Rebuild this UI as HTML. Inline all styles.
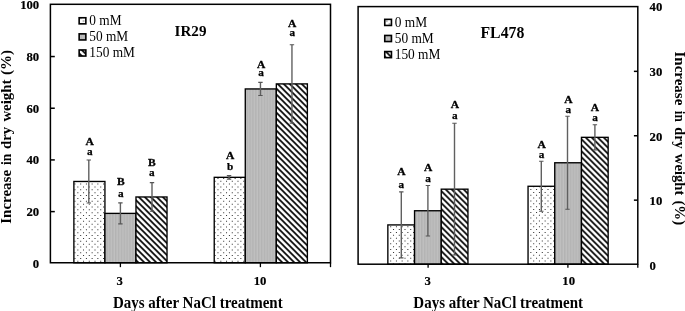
<!DOCTYPE html>
<html><head><meta charset="utf-8"><title>chart</title>
<style>
html,body{margin:0;padding:0;background:#fff;}
svg{display:block;will-change:transform;transform:translateZ(0);}
text{font-family:"Liberation Serif",serif;fill:#000;}
.b{font-weight:bold;}
</style></head><body>
<svg width="685" height="311" viewBox="0 0 685 311">
<defs>
<pattern id="dots" width="5.72" height="5.72" patternUnits="userSpaceOnUse" x="5.41" y="0.15">
<rect width="5.72" height="5.72" fill="#fff"/>
<rect x="0.35" y="0.35" width="1.15" height="1.15" fill="#3c3c3c"/>
<rect x="3.21" y="3.21" width="1.15" height="1.15" fill="#3c3c3c"/>
</pattern>
<pattern id="gray" width="2.86" height="2.86" patternUnits="userSpaceOnUse" x="0.6" y="0">
<rect width="2.86" height="2.86" fill="#c0c0c0"/>
<rect width="1.43" height="2.86" fill="#b3b3b3"/>
</pattern>
<pattern id="diag" width="6" height="6" patternUnits="userSpaceOnUse" x="1.8" y="0">
<rect width="6" height="6" fill="#fff"/>
<path d="M-3,-3 L9,9 M-3,3 L3,9 M3,-3 L9,3" stroke="#000" stroke-width="1.65" fill="none"/>
</pattern>
<pattern id="diagR" width="6" height="6" patternUnits="userSpaceOnUse" x="4.3" y="0">
<rect width="6" height="6" fill="#fff"/>
<path d="M-3,-3 L9,9 M-3,3 L3,9 M3,-3 L9,3" stroke="#000" stroke-width="1.65" fill="none"/>
</pattern>
</defs>
<rect width="685" height="311" fill="#fff"/>

<rect x="73.88" y="181.47" width="31.05" height="81.28" fill="#fff"/>
<path d="M74.47,183.61h1.0v1.0h-1.0zM74.47,189.33h1.0v1.0h-1.0zM74.47,195.05h1.0v1.0h-1.0zM74.47,200.77h1.0v1.0h-1.0zM74.47,206.49h1.0v1.0h-1.0zM74.47,212.21h1.0v1.0h-1.0zM74.47,217.93h1.0v1.0h-1.0zM74.47,223.65h1.0v1.0h-1.0zM74.47,229.37h1.0v1.0h-1.0zM74.47,235.09h1.0v1.0h-1.0zM74.47,240.81h1.0v1.0h-1.0zM74.47,246.53h1.0v1.0h-1.0zM74.47,252.25h1.0v1.0h-1.0zM74.47,257.97h1.0v1.0h-1.0zM80.19,183.61h1.0v1.0h-1.0zM80.19,189.33h1.0v1.0h-1.0zM80.19,195.05h1.0v1.0h-1.0zM80.19,200.77h1.0v1.0h-1.0zM80.19,206.49h1.0v1.0h-1.0zM80.19,212.21h1.0v1.0h-1.0zM80.19,217.93h1.0v1.0h-1.0zM80.19,223.65h1.0v1.0h-1.0zM80.19,229.37h1.0v1.0h-1.0zM80.19,235.09h1.0v1.0h-1.0zM80.19,240.81h1.0v1.0h-1.0zM80.19,246.53h1.0v1.0h-1.0zM80.19,252.25h1.0v1.0h-1.0zM80.19,257.97h1.0v1.0h-1.0zM85.91,183.61h1.0v1.0h-1.0zM85.91,189.33h1.0v1.0h-1.0zM85.91,195.05h1.0v1.0h-1.0zM85.91,200.77h1.0v1.0h-1.0zM85.91,206.49h1.0v1.0h-1.0zM85.91,212.21h1.0v1.0h-1.0zM85.91,217.93h1.0v1.0h-1.0zM85.91,223.65h1.0v1.0h-1.0zM85.91,229.37h1.0v1.0h-1.0zM85.91,235.09h1.0v1.0h-1.0zM85.91,240.81h1.0v1.0h-1.0zM85.91,246.53h1.0v1.0h-1.0zM85.91,252.25h1.0v1.0h-1.0zM85.91,257.97h1.0v1.0h-1.0zM91.63,183.61h1.0v1.0h-1.0zM91.63,189.33h1.0v1.0h-1.0zM91.63,195.05h1.0v1.0h-1.0zM91.63,200.77h1.0v1.0h-1.0zM91.63,206.49h1.0v1.0h-1.0zM91.63,212.21h1.0v1.0h-1.0zM91.63,217.93h1.0v1.0h-1.0zM91.63,223.65h1.0v1.0h-1.0zM91.63,229.37h1.0v1.0h-1.0zM91.63,235.09h1.0v1.0h-1.0zM91.63,240.81h1.0v1.0h-1.0zM91.63,246.53h1.0v1.0h-1.0zM91.63,252.25h1.0v1.0h-1.0zM91.63,257.97h1.0v1.0h-1.0zM97.35,183.61h1.0v1.0h-1.0zM97.35,189.33h1.0v1.0h-1.0zM97.35,195.05h1.0v1.0h-1.0zM97.35,200.77h1.0v1.0h-1.0zM97.35,206.49h1.0v1.0h-1.0zM97.35,212.21h1.0v1.0h-1.0zM97.35,217.93h1.0v1.0h-1.0zM97.35,223.65h1.0v1.0h-1.0zM97.35,229.37h1.0v1.0h-1.0zM97.35,235.09h1.0v1.0h-1.0zM97.35,240.81h1.0v1.0h-1.0zM97.35,246.53h1.0v1.0h-1.0zM97.35,252.25h1.0v1.0h-1.0zM97.35,257.97h1.0v1.0h-1.0zM103.07,183.61h1.0v1.0h-1.0zM103.07,189.33h1.0v1.0h-1.0zM103.07,195.05h1.0v1.0h-1.0zM103.07,200.77h1.0v1.0h-1.0zM103.07,206.49h1.0v1.0h-1.0zM103.07,212.21h1.0v1.0h-1.0zM103.07,217.93h1.0v1.0h-1.0zM103.07,223.65h1.0v1.0h-1.0zM103.07,229.37h1.0v1.0h-1.0zM103.07,235.09h1.0v1.0h-1.0zM103.07,240.81h1.0v1.0h-1.0zM103.07,246.53h1.0v1.0h-1.0zM103.07,252.25h1.0v1.0h-1.0zM103.07,257.97h1.0v1.0h-1.0zM77.34,186.47h1.0v1.0h-1.0zM77.34,192.19h1.0v1.0h-1.0zM77.34,197.91h1.0v1.0h-1.0zM77.34,203.63h1.0v1.0h-1.0zM77.34,209.35h1.0v1.0h-1.0zM77.34,215.07h1.0v1.0h-1.0zM77.34,220.79h1.0v1.0h-1.0zM77.34,226.51h1.0v1.0h-1.0zM77.34,232.23h1.0v1.0h-1.0zM77.34,237.95h1.0v1.0h-1.0zM77.34,243.67h1.0v1.0h-1.0zM77.34,249.39h1.0v1.0h-1.0zM77.34,255.11h1.0v1.0h-1.0zM77.34,260.83h1.0v1.0h-1.0zM83.06,186.47h1.0v1.0h-1.0zM83.06,192.19h1.0v1.0h-1.0zM83.06,197.91h1.0v1.0h-1.0zM83.06,203.63h1.0v1.0h-1.0zM83.06,209.35h1.0v1.0h-1.0zM83.06,215.07h1.0v1.0h-1.0zM83.06,220.79h1.0v1.0h-1.0zM83.06,226.51h1.0v1.0h-1.0zM83.06,232.23h1.0v1.0h-1.0zM83.06,237.95h1.0v1.0h-1.0zM83.06,243.67h1.0v1.0h-1.0zM83.06,249.39h1.0v1.0h-1.0zM83.06,255.11h1.0v1.0h-1.0zM83.06,260.83h1.0v1.0h-1.0zM88.78,186.47h1.0v1.0h-1.0zM88.78,192.19h1.0v1.0h-1.0zM88.78,197.91h1.0v1.0h-1.0zM88.78,203.63h1.0v1.0h-1.0zM88.78,209.35h1.0v1.0h-1.0zM88.78,215.07h1.0v1.0h-1.0zM88.78,220.79h1.0v1.0h-1.0zM88.78,226.51h1.0v1.0h-1.0zM88.78,232.23h1.0v1.0h-1.0zM88.78,237.95h1.0v1.0h-1.0zM88.78,243.67h1.0v1.0h-1.0zM88.78,249.39h1.0v1.0h-1.0zM88.78,255.11h1.0v1.0h-1.0zM88.78,260.83h1.0v1.0h-1.0zM94.50,186.47h1.0v1.0h-1.0zM94.50,192.19h1.0v1.0h-1.0zM94.50,197.91h1.0v1.0h-1.0zM94.50,203.63h1.0v1.0h-1.0zM94.50,209.35h1.0v1.0h-1.0zM94.50,215.07h1.0v1.0h-1.0zM94.50,220.79h1.0v1.0h-1.0zM94.50,226.51h1.0v1.0h-1.0zM94.50,232.23h1.0v1.0h-1.0zM94.50,237.95h1.0v1.0h-1.0zM94.50,243.67h1.0v1.0h-1.0zM94.50,249.39h1.0v1.0h-1.0zM94.50,255.11h1.0v1.0h-1.0zM94.50,260.83h1.0v1.0h-1.0zM100.22,186.47h1.0v1.0h-1.0zM100.22,192.19h1.0v1.0h-1.0zM100.22,197.91h1.0v1.0h-1.0zM100.22,203.63h1.0v1.0h-1.0zM100.22,209.35h1.0v1.0h-1.0zM100.22,215.07h1.0v1.0h-1.0zM100.22,220.79h1.0v1.0h-1.0zM100.22,226.51h1.0v1.0h-1.0zM100.22,232.23h1.0v1.0h-1.0zM100.22,237.95h1.0v1.0h-1.0zM100.22,243.67h1.0v1.0h-1.0zM100.22,249.39h1.0v1.0h-1.0zM100.22,255.11h1.0v1.0h-1.0zM100.22,260.83h1.0v1.0h-1.0z" fill="#2e2e2e"/>
<rect x="73.88" y="181.47" width="31.05" height="81.28" fill="none" stroke="#000" stroke-width="1.35"/>
<rect x="104.92" y="213.39" width="31.05" height="49.36" fill="url(#gray)" stroke="#000" stroke-width="1.35"/>
<rect x="135.97" y="196.97" width="31.05" height="65.78" fill="url(#diag)" stroke="#000" stroke-width="1.35"/>
<rect x="214.23" y="177.33" width="31.05" height="85.42" fill="#fff"/>
<path d="M217.47,177.89h1.0v1.0h-1.0zM217.47,183.61h1.0v1.0h-1.0zM217.47,189.33h1.0v1.0h-1.0zM217.47,195.05h1.0v1.0h-1.0zM217.47,200.77h1.0v1.0h-1.0zM217.47,206.49h1.0v1.0h-1.0zM217.47,212.21h1.0v1.0h-1.0zM217.47,217.93h1.0v1.0h-1.0zM217.47,223.65h1.0v1.0h-1.0zM217.47,229.37h1.0v1.0h-1.0zM217.47,235.09h1.0v1.0h-1.0zM217.47,240.81h1.0v1.0h-1.0zM217.47,246.53h1.0v1.0h-1.0zM217.47,252.25h1.0v1.0h-1.0zM217.47,257.97h1.0v1.0h-1.0zM223.19,177.89h1.0v1.0h-1.0zM223.19,183.61h1.0v1.0h-1.0zM223.19,189.33h1.0v1.0h-1.0zM223.19,195.05h1.0v1.0h-1.0zM223.19,200.77h1.0v1.0h-1.0zM223.19,206.49h1.0v1.0h-1.0zM223.19,212.21h1.0v1.0h-1.0zM223.19,217.93h1.0v1.0h-1.0zM223.19,223.65h1.0v1.0h-1.0zM223.19,229.37h1.0v1.0h-1.0zM223.19,235.09h1.0v1.0h-1.0zM223.19,240.81h1.0v1.0h-1.0zM223.19,246.53h1.0v1.0h-1.0zM223.19,252.25h1.0v1.0h-1.0zM223.19,257.97h1.0v1.0h-1.0zM228.91,177.89h1.0v1.0h-1.0zM228.91,183.61h1.0v1.0h-1.0zM228.91,189.33h1.0v1.0h-1.0zM228.91,195.05h1.0v1.0h-1.0zM228.91,200.77h1.0v1.0h-1.0zM228.91,206.49h1.0v1.0h-1.0zM228.91,212.21h1.0v1.0h-1.0zM228.91,217.93h1.0v1.0h-1.0zM228.91,223.65h1.0v1.0h-1.0zM228.91,229.37h1.0v1.0h-1.0zM228.91,235.09h1.0v1.0h-1.0zM228.91,240.81h1.0v1.0h-1.0zM228.91,246.53h1.0v1.0h-1.0zM228.91,252.25h1.0v1.0h-1.0zM228.91,257.97h1.0v1.0h-1.0zM234.63,177.89h1.0v1.0h-1.0zM234.63,183.61h1.0v1.0h-1.0zM234.63,189.33h1.0v1.0h-1.0zM234.63,195.05h1.0v1.0h-1.0zM234.63,200.77h1.0v1.0h-1.0zM234.63,206.49h1.0v1.0h-1.0zM234.63,212.21h1.0v1.0h-1.0zM234.63,217.93h1.0v1.0h-1.0zM234.63,223.65h1.0v1.0h-1.0zM234.63,229.37h1.0v1.0h-1.0zM234.63,235.09h1.0v1.0h-1.0zM234.63,240.81h1.0v1.0h-1.0zM234.63,246.53h1.0v1.0h-1.0zM234.63,252.25h1.0v1.0h-1.0zM234.63,257.97h1.0v1.0h-1.0zM240.35,177.89h1.0v1.0h-1.0zM240.35,183.61h1.0v1.0h-1.0zM240.35,189.33h1.0v1.0h-1.0zM240.35,195.05h1.0v1.0h-1.0zM240.35,200.77h1.0v1.0h-1.0zM240.35,206.49h1.0v1.0h-1.0zM240.35,212.21h1.0v1.0h-1.0zM240.35,217.93h1.0v1.0h-1.0zM240.35,223.65h1.0v1.0h-1.0zM240.35,229.37h1.0v1.0h-1.0zM240.35,235.09h1.0v1.0h-1.0zM240.35,240.81h1.0v1.0h-1.0zM240.35,246.53h1.0v1.0h-1.0zM240.35,252.25h1.0v1.0h-1.0zM240.35,257.97h1.0v1.0h-1.0zM214.61,180.75h1.0v1.0h-1.0zM214.61,186.47h1.0v1.0h-1.0zM214.61,192.19h1.0v1.0h-1.0zM214.61,197.91h1.0v1.0h-1.0zM214.61,203.63h1.0v1.0h-1.0zM214.61,209.35h1.0v1.0h-1.0zM214.61,215.07h1.0v1.0h-1.0zM214.61,220.79h1.0v1.0h-1.0zM214.61,226.51h1.0v1.0h-1.0zM214.61,232.23h1.0v1.0h-1.0zM214.61,237.95h1.0v1.0h-1.0zM214.61,243.67h1.0v1.0h-1.0zM214.61,249.39h1.0v1.0h-1.0zM214.61,255.11h1.0v1.0h-1.0zM214.61,260.83h1.0v1.0h-1.0zM220.33,180.75h1.0v1.0h-1.0zM220.33,186.47h1.0v1.0h-1.0zM220.33,192.19h1.0v1.0h-1.0zM220.33,197.91h1.0v1.0h-1.0zM220.33,203.63h1.0v1.0h-1.0zM220.33,209.35h1.0v1.0h-1.0zM220.33,215.07h1.0v1.0h-1.0zM220.33,220.79h1.0v1.0h-1.0zM220.33,226.51h1.0v1.0h-1.0zM220.33,232.23h1.0v1.0h-1.0zM220.33,237.95h1.0v1.0h-1.0zM220.33,243.67h1.0v1.0h-1.0zM220.33,249.39h1.0v1.0h-1.0zM220.33,255.11h1.0v1.0h-1.0zM220.33,260.83h1.0v1.0h-1.0zM226.05,180.75h1.0v1.0h-1.0zM226.05,186.47h1.0v1.0h-1.0zM226.05,192.19h1.0v1.0h-1.0zM226.05,197.91h1.0v1.0h-1.0zM226.05,203.63h1.0v1.0h-1.0zM226.05,209.35h1.0v1.0h-1.0zM226.05,215.07h1.0v1.0h-1.0zM226.05,220.79h1.0v1.0h-1.0zM226.05,226.51h1.0v1.0h-1.0zM226.05,232.23h1.0v1.0h-1.0zM226.05,237.95h1.0v1.0h-1.0zM226.05,243.67h1.0v1.0h-1.0zM226.05,249.39h1.0v1.0h-1.0zM226.05,255.11h1.0v1.0h-1.0zM226.05,260.83h1.0v1.0h-1.0zM231.77,180.75h1.0v1.0h-1.0zM231.77,186.47h1.0v1.0h-1.0zM231.77,192.19h1.0v1.0h-1.0zM231.77,197.91h1.0v1.0h-1.0zM231.77,203.63h1.0v1.0h-1.0zM231.77,209.35h1.0v1.0h-1.0zM231.77,215.07h1.0v1.0h-1.0zM231.77,220.79h1.0v1.0h-1.0zM231.77,226.51h1.0v1.0h-1.0zM231.77,232.23h1.0v1.0h-1.0zM231.77,237.95h1.0v1.0h-1.0zM231.77,243.67h1.0v1.0h-1.0zM231.77,249.39h1.0v1.0h-1.0zM231.77,255.11h1.0v1.0h-1.0zM231.77,260.83h1.0v1.0h-1.0zM237.49,180.75h1.0v1.0h-1.0zM237.49,186.47h1.0v1.0h-1.0zM237.49,192.19h1.0v1.0h-1.0zM237.49,197.91h1.0v1.0h-1.0zM237.49,203.63h1.0v1.0h-1.0zM237.49,209.35h1.0v1.0h-1.0zM237.49,215.07h1.0v1.0h-1.0zM237.49,220.79h1.0v1.0h-1.0zM237.49,226.51h1.0v1.0h-1.0zM237.49,232.23h1.0v1.0h-1.0zM237.49,237.95h1.0v1.0h-1.0zM237.49,243.67h1.0v1.0h-1.0zM237.49,249.39h1.0v1.0h-1.0zM237.49,255.11h1.0v1.0h-1.0zM237.49,260.83h1.0v1.0h-1.0zM243.21,180.75h1.0v1.0h-1.0zM243.21,186.47h1.0v1.0h-1.0zM243.21,192.19h1.0v1.0h-1.0zM243.21,197.91h1.0v1.0h-1.0zM243.21,203.63h1.0v1.0h-1.0zM243.21,209.35h1.0v1.0h-1.0zM243.21,215.07h1.0v1.0h-1.0zM243.21,220.79h1.0v1.0h-1.0zM243.21,226.51h1.0v1.0h-1.0zM243.21,232.23h1.0v1.0h-1.0zM243.21,237.95h1.0v1.0h-1.0zM243.21,243.67h1.0v1.0h-1.0zM243.21,249.39h1.0v1.0h-1.0zM243.21,255.11h1.0v1.0h-1.0zM243.21,260.83h1.0v1.0h-1.0z" fill="#2e2e2e"/>
<rect x="214.23" y="177.33" width="31.05" height="85.42" fill="none" stroke="#000" stroke-width="1.35"/>
<rect x="245.28" y="88.94" width="31.05" height="173.81" fill="url(#gray)" stroke="#000" stroke-width="1.35"/>
<rect x="276.33" y="83.90" width="31.05" height="178.85" fill="url(#diag)" stroke="#000" stroke-width="1.35"/>
<path d="M88.80,159.97 V202.97" stroke="#606060" stroke-width="1.4" fill="none"/>
<path d="M86.60,159.97 h4.4 M86.60,202.97 h4.4" stroke="#555" stroke-width="1.1" fill="none"/>
<text class="b" stroke="#000" stroke-width="0.3" transform="translate(89.75,145.00) scale(1.02,1)" font-size="11.3" text-anchor="middle">A</text>
<text class="b" stroke="#000" stroke-width="0.25" transform="translate(89.75,155.00) scale(1.0,1)" font-size="11.2" text-anchor="middle">a</text>
<path d="M120.40,202.89 V223.89" stroke="#606060" stroke-width="1.4" fill="none"/>
<path d="M118.20,202.89 h4.4 M118.20,223.89 h4.4" stroke="#555" stroke-width="1.1" fill="none"/>
<text class="b" stroke="#000" stroke-width="0.3" transform="translate(120.80,185.00) scale(1.02,1)" font-size="11.3" text-anchor="middle">B</text>
<text class="b" stroke="#000" stroke-width="0.25" transform="translate(120.80,197.00) scale(1.0,1)" font-size="11.2" text-anchor="middle">a</text>
<path d="M152.00,182.67 V211.27" stroke="#606060" stroke-width="1.4" fill="none"/>
<path d="M149.80,182.67 h4.4 M149.80,211.27 h4.4" stroke="#555" stroke-width="1.1" fill="none"/>
<text class="b" stroke="#000" stroke-width="0.3" transform="translate(151.85,166.20) scale(1.02,1)" font-size="11.3" text-anchor="middle">B</text>
<text class="b" stroke="#000" stroke-width="0.25" transform="translate(151.85,176.30) scale(1.0,1)" font-size="11.2" text-anchor="middle">a</text>
<path d="M229.05,175.58 V179.08" stroke="#606060" stroke-width="1.4" fill="none"/>
<path d="M226.85,175.58 h4.4 M226.85,179.08 h4.4" stroke="#555" stroke-width="1.1" fill="none"/>
<text class="b" stroke="#000" stroke-width="0.3" transform="translate(230.10,159.20) scale(1.02,1)" font-size="11.3" text-anchor="middle">A</text>
<text class="b" stroke="#000" stroke-width="0.25" transform="translate(230.10,169.80) scale(1.0,1)" font-size="11.2" text-anchor="middle">b</text>
<path d="M260.45,82.34 V95.54" stroke="#606060" stroke-width="1.4" fill="none"/>
<path d="M258.25,82.34 h4.4 M258.25,95.54 h4.4" stroke="#555" stroke-width="1.1" fill="none"/>
<text class="b" stroke="#000" stroke-width="0.3" transform="translate(261.15,68.20) scale(1.02,1)" font-size="11.3" text-anchor="middle">A</text>
<text class="b" stroke="#000" stroke-width="0.25" transform="translate(261.15,76.30) scale(1.0,1)" font-size="11.2" text-anchor="middle">a</text>
<path d="M291.95,44.70 V123.10" stroke="#606060" stroke-width="1.4" fill="none"/>
<path d="M289.75,44.70 h4.4 M289.75,123.10 h4.4" stroke="#555" stroke-width="1.1" fill="none"/>
<text class="b" stroke="#000" stroke-width="0.3" transform="translate(292.20,27.00) scale(1.02,1)" font-size="11.3" text-anchor="middle">A</text>
<text class="b" stroke="#000" stroke-width="0.25" transform="translate(292.20,36.00) scale(1.0,1)" font-size="11.2" text-anchor="middle">a</text>
<rect x="50.4" y="4.3" width="280.10" height="258.45" fill="none" stroke="#000" stroke-width="1.5"/>
<text class="b" stroke="#000" stroke-width="0.2" transform="translate(39.20,267.90) scale(0.95,1)" font-size="13.4" text-anchor="end">0</text>
<path d="M50.4,211.61 h4.4" stroke="#000" stroke-width="1.5"/>
<text class="b" stroke="#000" stroke-width="0.2" transform="translate(39.20,216.16) scale(0.95,1)" font-size="13.4" text-anchor="end">20</text>
<path d="M50.4,159.92 h4.4" stroke="#000" stroke-width="1.5"/>
<text class="b" stroke="#000" stroke-width="0.2" transform="translate(39.20,164.42) scale(0.95,1)" font-size="13.4" text-anchor="end">40</text>
<path d="M50.4,108.23 h4.4" stroke="#000" stroke-width="1.5"/>
<text class="b" stroke="#000" stroke-width="0.2" transform="translate(39.20,112.68) scale(0.95,1)" font-size="13.4" text-anchor="end">60</text>
<path d="M50.4,56.54 h4.4" stroke="#000" stroke-width="1.5"/>
<text class="b" stroke="#000" stroke-width="0.2" transform="translate(39.20,60.94) scale(0.95,1)" font-size="13.4" text-anchor="end">80</text>
<text class="b" stroke="#000" stroke-width="0.2" transform="translate(39.20,9.20) scale(0.95,1)" font-size="13.4" text-anchor="end">100</text>
<path d="M120.4,262.75 v4.4" stroke="#000" stroke-width="1.3"/>
<path d="M260.4,262.75 v4.4" stroke="#000" stroke-width="1.3"/>
<path d="M330.5,262.75 v4.4" stroke="#000" stroke-width="1.3"/>
<text class="b" stroke="#000" stroke-width="0.2" transform="translate(119.80,284.60) scale(0.95,1)" font-size="13.4" text-anchor="middle">3</text>
<text class="b" stroke="#000" stroke-width="0.2" transform="translate(260.00,284.60) scale(0.95,1)" font-size="13.4" text-anchor="middle">10</text>
<text class="b" transform="translate(197.80,308.00) scale(0.9375,1)" font-size="16" text-anchor="middle">Days after NaCl treatment</text>
<text class="b" transform="translate(10.5,223.80) rotate(-90) scale(1.0,1)" font-size="15">Increase</text>
<text class="b" transform="translate(10.5,164.97) rotate(-90) scale(0.9,1)" font-size="15">in</text>
<text class="b" transform="translate(10.5,148.99) rotate(-90) scale(0.98,1)" font-size="15">dry</text>
<text class="b" transform="translate(10.5,121.60) rotate(-90) scale(0.99,1)" font-size="15">weight</text>
<text class="b" transform="translate(10.5,74.90) rotate(-90) scale(1.0,1)" font-size="15">(%)</text>
<text class="b" x="174.6" y="35.6" font-size="15.1">IR29</text>
<rect x="79.15" y="17.75" width="6.7" height="6.1" fill="url(#dots)" stroke="#000" stroke-width="1.6"/>
<text transform="translate(89.30,25.00) scale(0.94,1)" font-size="14.2" text-anchor="start">0 mM</text>
<rect x="79.15" y="33.85" width="6.7" height="6.1" fill="url(#gray)" stroke="#000" stroke-width="1.6"/>
<text transform="translate(89.30,41.05) scale(0.94,1)" font-size="14.2" text-anchor="start">50 mM</text>
<rect x="79.15" y="49.95" width="6.7" height="6.1" fill="url(#diag)" stroke="#000" stroke-width="1.6"/>
<text transform="translate(89.30,57.10) scale(0.94,1)" font-size="14.2" text-anchor="start">150 mM</text>
<rect x="387.85" y="224.92" width="26.70" height="39.28" fill="#fff"/>
<path d="M390.20,226.20h1.0v1.0h-1.0zM390.20,231.92h1.0v1.0h-1.0zM390.20,237.64h1.0v1.0h-1.0zM390.20,243.36h1.0v1.0h-1.0zM390.20,249.08h1.0v1.0h-1.0zM390.20,254.80h1.0v1.0h-1.0zM390.20,260.52h1.0v1.0h-1.0zM395.92,226.20h1.0v1.0h-1.0zM395.92,231.92h1.0v1.0h-1.0zM395.92,237.64h1.0v1.0h-1.0zM395.92,243.36h1.0v1.0h-1.0zM395.92,249.08h1.0v1.0h-1.0zM395.92,254.80h1.0v1.0h-1.0zM395.92,260.52h1.0v1.0h-1.0zM401.64,226.20h1.0v1.0h-1.0zM401.64,231.92h1.0v1.0h-1.0zM401.64,237.64h1.0v1.0h-1.0zM401.64,243.36h1.0v1.0h-1.0zM401.64,249.08h1.0v1.0h-1.0zM401.64,254.80h1.0v1.0h-1.0zM401.64,260.52h1.0v1.0h-1.0zM407.36,226.20h1.0v1.0h-1.0zM407.36,231.92h1.0v1.0h-1.0zM407.36,237.64h1.0v1.0h-1.0zM407.36,243.36h1.0v1.0h-1.0zM407.36,249.08h1.0v1.0h-1.0zM407.36,254.80h1.0v1.0h-1.0zM407.36,260.52h1.0v1.0h-1.0zM413.08,226.20h1.0v1.0h-1.0zM413.08,231.92h1.0v1.0h-1.0zM413.08,237.64h1.0v1.0h-1.0zM413.08,243.36h1.0v1.0h-1.0zM413.08,249.08h1.0v1.0h-1.0zM413.08,254.80h1.0v1.0h-1.0zM413.08,260.52h1.0v1.0h-1.0zM393.06,229.06h1.0v1.0h-1.0zM393.06,234.78h1.0v1.0h-1.0zM393.06,240.50h1.0v1.0h-1.0zM393.06,246.22h1.0v1.0h-1.0zM393.06,251.94h1.0v1.0h-1.0zM393.06,257.66h1.0v1.0h-1.0zM393.06,263.38h1.0v1.0h-1.0zM398.78,229.06h1.0v1.0h-1.0zM398.78,234.78h1.0v1.0h-1.0zM398.78,240.50h1.0v1.0h-1.0zM398.78,246.22h1.0v1.0h-1.0zM398.78,251.94h1.0v1.0h-1.0zM398.78,257.66h1.0v1.0h-1.0zM398.78,263.38h1.0v1.0h-1.0zM404.50,229.06h1.0v1.0h-1.0zM404.50,234.78h1.0v1.0h-1.0zM404.50,240.50h1.0v1.0h-1.0zM404.50,246.22h1.0v1.0h-1.0zM404.50,251.94h1.0v1.0h-1.0zM404.50,257.66h1.0v1.0h-1.0zM404.50,263.38h1.0v1.0h-1.0zM410.22,229.06h1.0v1.0h-1.0zM410.22,234.78h1.0v1.0h-1.0zM410.22,240.50h1.0v1.0h-1.0zM410.22,246.22h1.0v1.0h-1.0zM410.22,251.94h1.0v1.0h-1.0zM410.22,257.66h1.0v1.0h-1.0zM410.22,263.38h1.0v1.0h-1.0z" fill="#2e2e2e"/>
<rect x="387.85" y="224.92" width="26.70" height="39.28" fill="none" stroke="#000" stroke-width="1.35"/>
<rect x="414.55" y="210.75" width="26.70" height="53.45" fill="url(#gray)" stroke="#000" stroke-width="1.35"/>
<rect x="441.25" y="189.17" width="26.70" height="75.03" fill="url(#diagR)" stroke="#000" stroke-width="1.35"/>
<rect x="528.05" y="186.28" width="26.70" height="77.92" fill="#fff"/>
<path d="M533.21,186.16h1.0v1.0h-1.0zM533.21,191.88h1.0v1.0h-1.0zM533.21,197.60h1.0v1.0h-1.0zM533.21,203.32h1.0v1.0h-1.0zM533.21,209.04h1.0v1.0h-1.0zM533.21,214.76h1.0v1.0h-1.0zM533.21,220.48h1.0v1.0h-1.0zM533.21,226.20h1.0v1.0h-1.0zM533.21,231.92h1.0v1.0h-1.0zM533.21,237.64h1.0v1.0h-1.0zM533.21,243.36h1.0v1.0h-1.0zM533.21,249.08h1.0v1.0h-1.0zM533.21,254.80h1.0v1.0h-1.0zM533.21,260.52h1.0v1.0h-1.0zM538.92,186.16h1.0v1.0h-1.0zM538.92,191.88h1.0v1.0h-1.0zM538.92,197.60h1.0v1.0h-1.0zM538.92,203.32h1.0v1.0h-1.0zM538.92,209.04h1.0v1.0h-1.0zM538.92,214.76h1.0v1.0h-1.0zM538.92,220.48h1.0v1.0h-1.0zM538.92,226.20h1.0v1.0h-1.0zM538.92,231.92h1.0v1.0h-1.0zM538.92,237.64h1.0v1.0h-1.0zM538.92,243.36h1.0v1.0h-1.0zM538.92,249.08h1.0v1.0h-1.0zM538.92,254.80h1.0v1.0h-1.0zM538.92,260.52h1.0v1.0h-1.0zM544.64,186.16h1.0v1.0h-1.0zM544.64,191.88h1.0v1.0h-1.0zM544.64,197.60h1.0v1.0h-1.0zM544.64,203.32h1.0v1.0h-1.0zM544.64,209.04h1.0v1.0h-1.0zM544.64,214.76h1.0v1.0h-1.0zM544.64,220.48h1.0v1.0h-1.0zM544.64,226.20h1.0v1.0h-1.0zM544.64,231.92h1.0v1.0h-1.0zM544.64,237.64h1.0v1.0h-1.0zM544.64,243.36h1.0v1.0h-1.0zM544.64,249.08h1.0v1.0h-1.0zM544.64,254.80h1.0v1.0h-1.0zM544.64,260.52h1.0v1.0h-1.0zM550.37,186.16h1.0v1.0h-1.0zM550.37,191.88h1.0v1.0h-1.0zM550.37,197.60h1.0v1.0h-1.0zM550.37,203.32h1.0v1.0h-1.0zM550.37,209.04h1.0v1.0h-1.0zM550.37,214.76h1.0v1.0h-1.0zM550.37,220.48h1.0v1.0h-1.0zM550.37,226.20h1.0v1.0h-1.0zM550.37,231.92h1.0v1.0h-1.0zM550.37,237.64h1.0v1.0h-1.0zM550.37,243.36h1.0v1.0h-1.0zM550.37,249.08h1.0v1.0h-1.0zM550.37,254.80h1.0v1.0h-1.0zM550.37,260.52h1.0v1.0h-1.0zM530.35,189.02h1.0v1.0h-1.0zM530.35,194.75h1.0v1.0h-1.0zM530.35,200.46h1.0v1.0h-1.0zM530.35,206.19h1.0v1.0h-1.0zM530.35,211.90h1.0v1.0h-1.0zM530.35,217.62h1.0v1.0h-1.0zM530.35,223.34h1.0v1.0h-1.0zM530.35,229.06h1.0v1.0h-1.0zM530.35,234.78h1.0v1.0h-1.0zM530.35,240.50h1.0v1.0h-1.0zM530.35,246.22h1.0v1.0h-1.0zM530.35,251.94h1.0v1.0h-1.0zM530.35,257.66h1.0v1.0h-1.0zM530.35,263.38h1.0v1.0h-1.0zM536.07,189.02h1.0v1.0h-1.0zM536.07,194.75h1.0v1.0h-1.0zM536.07,200.46h1.0v1.0h-1.0zM536.07,206.19h1.0v1.0h-1.0zM536.07,211.90h1.0v1.0h-1.0zM536.07,217.62h1.0v1.0h-1.0zM536.07,223.34h1.0v1.0h-1.0zM536.07,229.06h1.0v1.0h-1.0zM536.07,234.78h1.0v1.0h-1.0zM536.07,240.50h1.0v1.0h-1.0zM536.07,246.22h1.0v1.0h-1.0zM536.07,251.94h1.0v1.0h-1.0zM536.07,257.66h1.0v1.0h-1.0zM536.07,263.38h1.0v1.0h-1.0zM541.78,189.02h1.0v1.0h-1.0zM541.78,194.75h1.0v1.0h-1.0zM541.78,200.46h1.0v1.0h-1.0zM541.78,206.19h1.0v1.0h-1.0zM541.78,211.90h1.0v1.0h-1.0zM541.78,217.62h1.0v1.0h-1.0zM541.78,223.34h1.0v1.0h-1.0zM541.78,229.06h1.0v1.0h-1.0zM541.78,234.78h1.0v1.0h-1.0zM541.78,240.50h1.0v1.0h-1.0zM541.78,246.22h1.0v1.0h-1.0zM541.78,251.94h1.0v1.0h-1.0zM541.78,257.66h1.0v1.0h-1.0zM541.78,263.38h1.0v1.0h-1.0zM547.50,189.02h1.0v1.0h-1.0zM547.50,194.75h1.0v1.0h-1.0zM547.50,200.46h1.0v1.0h-1.0zM547.50,206.19h1.0v1.0h-1.0zM547.50,211.90h1.0v1.0h-1.0zM547.50,217.62h1.0v1.0h-1.0zM547.50,223.34h1.0v1.0h-1.0zM547.50,229.06h1.0v1.0h-1.0zM547.50,234.78h1.0v1.0h-1.0zM547.50,240.50h1.0v1.0h-1.0zM547.50,246.22h1.0v1.0h-1.0zM547.50,251.94h1.0v1.0h-1.0zM547.50,257.66h1.0v1.0h-1.0zM547.50,263.38h1.0v1.0h-1.0zM553.23,189.02h1.0v1.0h-1.0zM553.23,194.75h1.0v1.0h-1.0zM553.23,200.46h1.0v1.0h-1.0zM553.23,206.19h1.0v1.0h-1.0zM553.23,211.90h1.0v1.0h-1.0zM553.23,217.62h1.0v1.0h-1.0zM553.23,223.34h1.0v1.0h-1.0zM553.23,229.06h1.0v1.0h-1.0zM553.23,234.78h1.0v1.0h-1.0zM553.23,240.50h1.0v1.0h-1.0zM553.23,246.22h1.0v1.0h-1.0zM553.23,251.94h1.0v1.0h-1.0zM553.23,257.66h1.0v1.0h-1.0zM553.23,263.38h1.0v1.0h-1.0z" fill="#2e2e2e"/>
<rect x="528.05" y="186.28" width="26.70" height="77.92" fill="none" stroke="#000" stroke-width="1.35"/>
<rect x="554.75" y="162.77" width="26.70" height="101.43" fill="url(#gray)" stroke="#000" stroke-width="1.35"/>
<rect x="581.45" y="137.33" width="26.70" height="126.87" fill="url(#diagR)" stroke="#000" stroke-width="1.35"/>
<path d="M401.30,191.92 V257.92" stroke="#606060" stroke-width="1.4" fill="none"/>
<path d="M399.10,191.92 h4.4 M399.10,257.92 h4.4" stroke="#555" stroke-width="1.1" fill="none"/>
<text class="b" stroke="#000" stroke-width="0.3" transform="translate(401.40,175.00) scale(1.02,1)" font-size="11.3" text-anchor="middle">A</text>
<text class="b" stroke="#000" stroke-width="0.25" transform="translate(401.40,188.00) scale(1.0,1)" font-size="11.2" text-anchor="middle">a</text>
<path d="M427.90,185.55 V235.95" stroke="#606060" stroke-width="1.4" fill="none"/>
<path d="M425.70,185.55 h4.4 M425.70,235.95 h4.4" stroke="#555" stroke-width="1.1" fill="none"/>
<text class="b" stroke="#000" stroke-width="0.3" transform="translate(428.10,171.20) scale(1.02,1)" font-size="11.3" text-anchor="middle">A</text>
<text class="b" stroke="#000" stroke-width="0.25" transform="translate(428.10,182.20) scale(1.0,1)" font-size="11.2" text-anchor="middle">a</text>
<path d="M454.50,123.27 V255.07" stroke="#606060" stroke-width="1.4" fill="none"/>
<path d="M452.30,123.27 h4.4 M452.30,255.07 h4.4" stroke="#555" stroke-width="1.1" fill="none"/>
<text class="b" stroke="#000" stroke-width="0.3" transform="translate(454.80,108.30) scale(1.02,1)" font-size="11.3" text-anchor="middle">A</text>
<text class="b" stroke="#000" stroke-width="0.25" transform="translate(454.80,119.00) scale(1.0,1)" font-size="11.2" text-anchor="middle">a</text>
<path d="M541.30,161.28 V211.28" stroke="#606060" stroke-width="1.4" fill="none"/>
<path d="M539.10,161.28 h4.4 M539.10,211.28 h4.4" stroke="#555" stroke-width="1.1" fill="none"/>
<text class="b" stroke="#000" stroke-width="0.3" transform="translate(541.60,148.00) scale(1.02,1)" font-size="11.3" text-anchor="middle">A</text>
<text class="b" stroke="#000" stroke-width="0.25" transform="translate(541.60,158.20) scale(1.0,1)" font-size="11.2" text-anchor="middle">a</text>
<path d="M567.50,116.27 V209.27" stroke="#606060" stroke-width="1.4" fill="none"/>
<path d="M565.30,116.27 h4.4 M565.30,209.27 h4.4" stroke="#555" stroke-width="1.1" fill="none"/>
<text class="b" stroke="#000" stroke-width="0.3" transform="translate(568.30,102.80) scale(1.02,1)" font-size="11.3" text-anchor="middle">A</text>
<text class="b" stroke="#000" stroke-width="0.25" transform="translate(568.30,113.20) scale(1.0,1)" font-size="11.2" text-anchor="middle">a</text>
<path d="M594.90,124.73 V149.93" stroke="#606060" stroke-width="1.4" fill="none"/>
<path d="M592.70,124.73 h4.4 M592.70,149.93 h4.4" stroke="#555" stroke-width="1.1" fill="none"/>
<text class="b" stroke="#000" stroke-width="0.3" transform="translate(595.00,110.50) scale(1.02,1)" font-size="11.3" text-anchor="middle">A</text>
<text class="b" stroke="#000" stroke-width="0.25" transform="translate(595.00,121.00) scale(1.0,1)" font-size="11.2" text-anchor="middle">a</text>
<rect x="358.1" y="6.6" width="279.70" height="257.60" fill="none" stroke="#000" stroke-width="1.5"/>
<text class="b" stroke="#000" stroke-width="0.2" transform="translate(649.60,269.90) scale(0.95,1)" font-size="13.4" text-anchor="start">0</text>
<path d="M637.8,200.15 h-3.9" stroke="#000" stroke-width="1.5"/>
<text class="b" stroke="#000" stroke-width="0.2" transform="translate(649.60,205.25) scale(0.95,1)" font-size="13.4" text-anchor="start">10</text>
<path d="M637.8,135.75 h-3.9" stroke="#000" stroke-width="1.5"/>
<text class="b" stroke="#000" stroke-width="0.2" transform="translate(649.60,140.60) scale(0.95,1)" font-size="13.4" text-anchor="start">20</text>
<path d="M637.8,71.35 h-3.9" stroke="#000" stroke-width="1.5"/>
<text class="b" stroke="#000" stroke-width="0.2" transform="translate(649.60,75.95) scale(0.95,1)" font-size="13.4" text-anchor="start">30</text>
<text class="b" stroke="#000" stroke-width="0.2" transform="translate(649.60,11.30) scale(0.95,1)" font-size="13.4" text-anchor="start">40</text>
<path d="M428.1,264.2 v3.6" stroke="#000" stroke-width="1.3"/>
<path d="M567.9,264.2 v3.6" stroke="#000" stroke-width="1.3"/>
<path d="M637.8,264.2 v3.6" stroke="#000" stroke-width="1.3"/>
<text class="b" stroke="#000" stroke-width="0.2" transform="translate(427.70,284.70) scale(0.95,1)" font-size="13.4" text-anchor="middle">3</text>
<text class="b" stroke="#000" stroke-width="0.2" transform="translate(568.70,284.70) scale(0.95,1)" font-size="13.4" text-anchor="middle">10</text>
<text class="b" transform="translate(498.20,307.90) scale(0.9375,1)" font-size="16" text-anchor="middle">Days after NaCl treatment</text>
<text class="b" transform="translate(675.0,51.50) rotate(90) scale(1.0,1.02)" font-size="15">Increase</text>
<text class="b" transform="translate(675.0,110.79) rotate(90) scale(0.88,1.02)" font-size="15">in</text>
<text class="b" transform="translate(675.0,127.17) rotate(90) scale(0.96,1.02)" font-size="15">dry</text>
<text class="b" transform="translate(675.0,153.80) rotate(90) scale(0.98,1.02)" font-size="15">weight</text>
<text class="b" transform="translate(675.0,200.41) rotate(90) scale(0.99,1.02)" font-size="15">(%)</text>
<text class="b" x="480.5" y="38.25" font-size="15.75">FL478</text>
<rect x="384.75" y="19.35" width="6.7" height="6.1" fill="url(#dots)" stroke="#000" stroke-width="1.6"/>
<text transform="translate(394.70,26.70) scale(0.93,1)" font-size="14.4" text-anchor="start">0 mM</text>
<rect x="384.75" y="35.45" width="6.7" height="6.1" fill="url(#gray)" stroke="#000" stroke-width="1.6"/>
<text transform="translate(394.70,42.80) scale(0.93,1)" font-size="14.4" text-anchor="start">50 mM</text>
<rect x="384.75" y="51.55" width="6.7" height="6.1" fill="url(#diagR)" stroke="#000" stroke-width="1.6"/>
<text transform="translate(394.70,58.90) scale(0.93,1)" font-size="14.4" text-anchor="start">150 mM</text>
</svg></body></html>
